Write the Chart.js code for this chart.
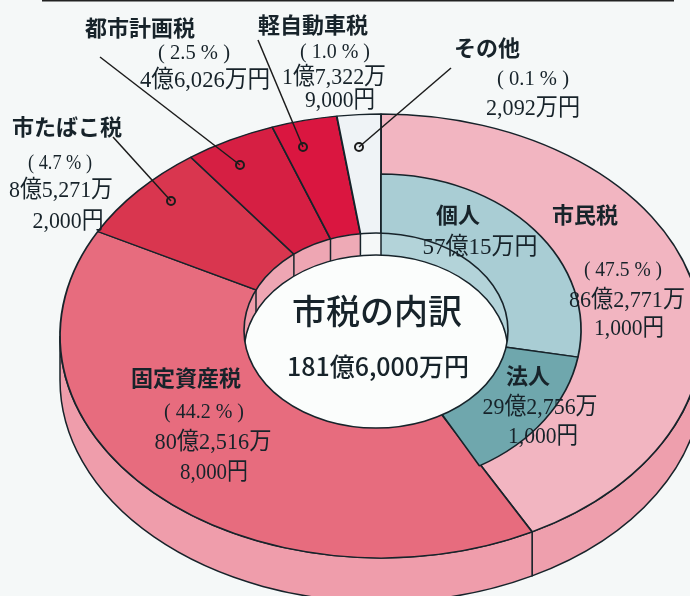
<!DOCTYPE html>
<html lang="ja"><head><meta charset="utf-8">
<style>html,body{margin:0;padding:0;background:#f5f8f8}canvas{display:block}</style>
<script src="https://cdn.jsdelivr.net/npm/chart.js@4"></script></head>
<body><div style="width:690px;height:596px"><canvas id="c" width="690" height="596"></canvas></div>
<script>
// Share of the drawn circle (the printed percentages are in the labels).
const taxNames = ['市民税','固定資産税','市たばこ税','都市計画税','軽自動車税','その他'];
const drawnShares = [42.2,40.6,7.1,4.6,3.3,2.2];
const printedPercent = [47.5,44.2,4.7,2.5,1.0,0.1];
const topColors = ['#f2b5c1','#e76c7e','#d9364f','#d61f43','#da1640','#eff3f6'];
const wallColors = ['#ee9fad','#ef9dab','#eea6b3','#eea6b3','#eeaab6','#f5f8f8'];
const subNames = ['個人','法人','残り'];
const subShares = [27.78,14.03,58.19];
const subColors = ['#a9cdd4','#6fa7ad','rgba(0,0,0,0)'];
const subBorders = ['#17232a','#17232a','rgba(0,0,0,0)'];
const subWallColors = ['#b3d3d9','#8fbcc1'];

// Elliptical layout of the tilted ring
const outerRing = {cx:381,cy:336,rx:321,ry:222,depth:44};
const subRing = {cx:381,cy:330,rx:200,ry:156};
const hole = {cx:376,cy:330.5,rx:132,ry:97.5,depth:22};
const ink = '#17232a';

// text, centre x, baseline-centre y, size, max width, bold
const labels = [
 ['都市計画税',140,28,22,116,1],['( 2.5 % )',194,53,22,72,0],['4億6,026万円',205,81,24,130,0],
 ['軽自動車税',313,25,22,118,1],['( 1.0 % )',335,52,22,70,0],['1億7,322万',334,78,24,104,0],['9,000円',340,101,24,70,0],
 ['その他',487,48,22,70,1],['( 0.1 % )',533,79,22,72,0],['2,092万円',533,109,24,94,0],
 ['市たばこ税',67,127,22,117,1],['( 4.7 % )',60,163,22,64,0],['8億5,271万',61,191,24,104,0],['2,000円',68,222,24,71,0],
 ['個人',458,215,22,44,1],['57億15万円',480,248,24,115,0],
 ['市民税',585,215,22,70,1],['( 47.5 % )',623,270,22,78,0],['86億2,771万',627,301,24,116,0],['1,000円',629,329,24,70,0],
 ['法人',528,376,22,45,1],['29億2,756万',540,408,24,115,0],['1,000円',543,437,24,70,0],
 ['固定資産税',186,378,22,118,1],['( 44.2 % )',204,412,22,80,0],['80億2,516万',213,443,24,117,0],['8,000円',214,473,24,68,0],
 ['市税の内訳',377,311,34,170,2],['181億6,000万円',378,366,25,188,2]
];
// x1,y1 label end → x2,y2 ring end
const leaders = [[100,57,240,165],[258,40,303,147],[451,68,359,147],[113,137,171,201]];

function hitHole(o,a){ // where a ring's radial line meets the hole edge
  const dx=o.rx*Math.cos(a), dy=o.ry*Math.sin(a);
  const ex=(o.cx-hole.cx)/hole.rx, ey=(o.cy-hole.cy)/hole.ry, fx=dx/hole.rx, fy=dy/hole.ry;
  const A=fx*fx+fy*fy, B=2*(ex*fx+ey*fy), C=ex*ex+ey*ey-1;
  const t=(-B+Math.sqrt(B*B-4*A*C))/(2*A);
  const x=o.cx+t*dx, y=o.cy+t*dy;
  return {x,y,t:Math.atan2((y-hole.cy)/hole.ry,(x-hole.cx)/hole.rx)};
}

const ringPlugin = {
  id:'ring',
  beforeDatasetsDraw(chart){
    const ctx=chart.ctx, o=outerRing;
    const arcs=chart.getDatasetMeta(0).data;
    ctx.save();
    ctx.strokeStyle=ink; ctx.lineWidth=1.5;
    arcs.forEach((el,i)=>{
      const a1=Math.max(el.startAngle,0), a2=Math.min(el.endAngle,Math.PI);
      if(a2<=a1) return;
      ctx.beginPath();
      ctx.ellipse(o.cx,o.cy,o.rx,o.ry,0,a1,a2);
      ctx.ellipse(o.cx,o.cy+o.depth,o.rx,o.ry,0,a2,a1,true);
      ctx.closePath();
      ctx.fillStyle=wallColors[i]; ctx.fill(); ctx.stroke();
    });
    ctx.restore();
  },
  beforeDatasetDraw(chart,args){
    const el=args.meta.data[0], r=args.index===0?outerRing:subRing, ctx=chart.ctx;
    ctx.save();
    ctx.translate(r.cx,r.cy);
    ctx.scale(r.rx/el.outerRadius,r.ry/el.outerRadius);
    ctx.translate(-el.x,-el.y);
  },
  afterDatasetDraw(chart){ chart.ctx.restore(); },
  afterDatasetsDraw(chart){
    const ctx=chart.ctx, h=hole;
    const bands=[];
    chart.getDatasetMeta(1).data.slice(0,2).forEach((el,i)=>bands.push({a:el.startAngle,b:el.endAngle,o:subRing,c:subWallColors[i]}));
    chart.getDatasetMeta(0).data.forEach((el,i)=>{ if(i>0) bands.push({a:el.startAngle,b:el.endAngle,o:outerRing,c:wallColors[i]}); });
    ctx.save();
    ctx.beginPath(); ctx.ellipse(h.cx,h.cy,h.rx,h.ry,0,0,Math.PI*2); ctx.clip();
    ctx.fillStyle='#f5f8f8'; ctx.fillRect(0,0,690,596);
    const pts=[];
    bands.forEach(b=>{
      const p=hitHole(b.o,b.a), q=hitHole(b.o,b.b);
      ctx.beginPath();
      ctx.ellipse(h.cx,h.cy,h.rx,h.ry,0,p.t,q.t<p.t?q.t+Math.PI*2:q.t);
      ctx.ellipse(h.cx,h.cy+h.depth,h.rx,h.ry,0,q.t<p.t?q.t+Math.PI*2:q.t,p.t,true);
      ctx.closePath();
      ctx.fillStyle=b.c; ctx.fill();
      pts.push(p);
    });
    ctx.strokeStyle=ink; ctx.lineWidth=1.5;
    pts.forEach(p=>{ctx.beginPath();ctx.moveTo(p.x,p.y);ctx.lineTo(p.x,p.y+h.depth);ctx.stroke();});
    ctx.beginPath(); ctx.ellipse(h.cx,h.cy+h.depth,h.rx,h.ry,0,0,Math.PI*2);
    ctx.fillStyle='#fbfdfc'; ctx.fill(); ctx.stroke();
    ctx.restore();
    ctx.strokeStyle=ink; ctx.lineWidth=1.6;
    ctx.beginPath(); ctx.ellipse(h.cx,h.cy,h.rx,h.ry,0,0,Math.PI*2); ctx.stroke();
  },
  afterDraw(chart){
    const ctx=chart.ctx;
    ctx.save();
    ctx.strokeStyle='#222'; ctx.lineWidth=2;
    ctx.beginPath(); ctx.moveTo(42,0.5); ctx.lineTo(674,0.5); ctx.stroke();
    ctx.lineWidth=1.5; ctx.strokeStyle='#1c1c1c';
    leaders.forEach(l=>{
      ctx.beginPath(); ctx.moveTo(l[0],l[1]); ctx.lineTo(l[2],l[3]); ctx.stroke();
      ctx.beginPath(); ctx.arc(l[2],l[3],4,0,Math.PI*2); ctx.lineWidth=2; ctx.stroke(); ctx.lineWidth=1.5;
    });
    ctx.fillStyle=ink; ctx.textAlign='center'; ctx.textBaseline='middle';
    labels.forEach(t=>{
      const fam=t[5]?'"Noto Sans CJK JP"':'"Liberation Serif","Noto Sans CJK JP"';
      ctx.font=(t[5]===1?'700 ':t[5]===2?'500 ':'400 ')+t[3]+'px '+fam;
      ctx.fillText(t[0],t[1],t[2],t[4]);
    });
    ctx.restore();
  }
};

new Chart(document.getElementById('c'),{
  type:'doughnut',
  data:{labels:taxNames,datasets:[
    {label:'市税',data:drawnShares,backgroundColor:topColors,borderColor:ink,borderWidth:1.7,weight:63,order:1,clip:false},
    {label:'市民税の内訳',data:subShares,backgroundColor:subColors,borderColor:subBorders,borderWidth:0.95,weight:14.8,order:0,clip:false}
  ]},
  options:{responsive:false,animation:false,cutout:'22.2%',events:[],
    layout:{padding:0},plugins:{legend:{display:false},tooltip:{enabled:false}}},
  plugins:[ringPlugin]
});
</script></body></html>
